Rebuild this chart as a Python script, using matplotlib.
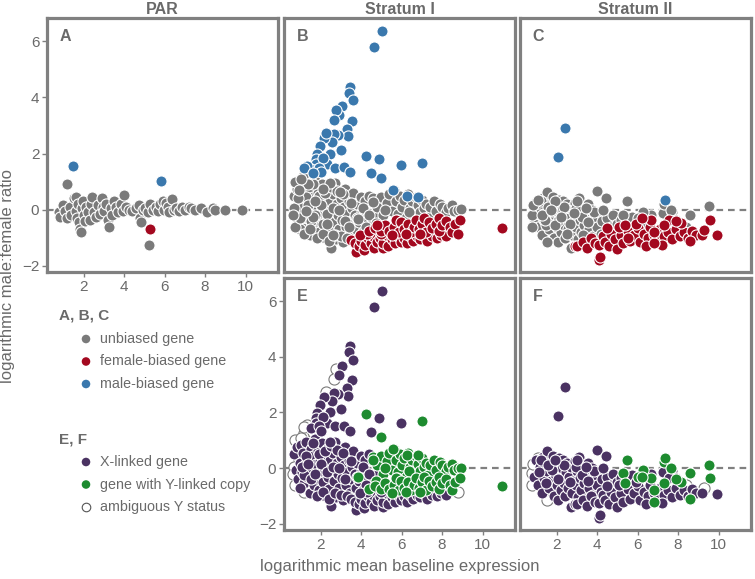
import matplotlib
matplotlib.use("Agg")
import matplotlib.pyplot as plt

plt.rcParams['font.family'] = ['Liberation Sans', 'DejaVu Sans']

# ---------------- data ----------------
# PAR (panel A): (log mean baseline expression, log male:female ratio)
par_unbiased = [(0.8,-0.1),(0.85,-0.25),(1.0,0.15),(1.1,-0.05),(1.19,0.93),(1.2,-0.3),(1.35,0.1),(1.4,-0.2),
    (1.5,0.4),(1.6,0.45),(1.6,-0.05),(1.65,-0.3),(1.7,0.2),(1.75,-0.45),(1.83,-0.7),(1.85,-0.78),(1.9,0.05),
    (1.95,0.3),(2.0,-0.2),(2.05,-0.4),(2.1,0.1),(2.2,-0.1),(2.3,-0.35),(2.35,0.2),(2.4,0.45),(2.5,-0.1),
    (2.6,-0.25),(2.7,0.15),(2.8,-0.15),(2.9,0.4),(2.95,0.1),(3.0,-0.05),(3.1,0.2),(3.2,-0.35),(3.27,-0.61),
    (3.35,0.05),(3.4,-0.2),(3.5,0.3),(3.6,0.1),(3.7,-0.1),(3.85,0.2),(3.98,0.54),(3.95,-0.05),(4.1,0.1),
    (4.25,0.0),(4.4,-0.05),(4.6,0.05),(4.75,0.15),(4.8,-0.3),(4.83,-0.45),(4.95,0.0),(5.05,0.05),(5.24,-1.26),
    (5.2,-0.1),(5.3,0.2),(5.45,0.0),(5.55,0.1),(5.65,-0.05),(5.75,0.2),(5.9,0.3),(5.95,0.0),(6.05,0.25),
    (6.15,0.1),(6.2,-0.1),(6.34,0.39),(6.45,0.0),(6.55,0.05),(6.7,-0.05),(6.85,0.1),(7.0,0.0),(7.2,0.1),
    (7.3,0.05),(7.5,0.0),(7.8,0.05),(8.1,-0.09),(8.4,0.05),(8.5,0.0),(8.97,0.0),(9.84,0.0)]
par_female = [(5.29,-0.70)]
par_male = [(1.48,1.57),(5.83,1.04)]

# Stratum I: groups by sex bias (unb / fem / mal) and Y status (X = X-linked, Y = Y-linked copy, A = ambiguous)
s1_unb_X = [(0.7,0.5),(0.8,-0.05),(0.85,0.75),(0.9,-0.4),(1.0,0.2),(1.05,0.85),(1.1,-0.15),(1.15,0.55),
    (1.2,-0.55),(1.25,0.1),(1.3,0.95),(1.35,-0.3),(1.4,0.35),(1.45,-0.9),(1.5,0.7),(1.55,-0.05),(1.6,0.45),
    (1.65,-0.6),(1.7,1.05),(1.75,0.15),(1.8,-0.35),(1.85,0.6),(1.9,-0.8),(1.95,0.25),(2.0,-0.1),(2.05,0.9),
    (2.1,-0.5),(2.15,0.4),(2.2,-1.0),(2.25,0.05),(2.3,0.7),(2.35,-0.3),(2.4,-0.75),(2.45,0.3),(2.5,-1.37),
    (2.55,-0.05),(2.6,0.55),(2.65,-0.45),(2.7,0.95),(2.75,-1.05),(2.8,0.2),(2.85,-0.2),(2.9,-0.7),(3.0,0.4),
    (3.05,-0.35),(3.1,-1.15),(3.15,0.1),(3.2,0.75),(3.25,-0.6),(3.3,-0.15),(3.4,0.3),(3.45,-0.9),(3.5,-0.4),
    (3.55,0.05),(3.6,0.6),(3.7,-0.2),(3.75,-0.7),(3.8,0.2),(3.9,-0.45),(4.0,0.45),(4.05,-0.1),(4.1,-0.8),
    (4.2,0.3),(4.3,-0.3),(4.4,0.5),(4.5,-0.55),(4.7,-0.25),(5.1,-0.5),(5.5,-0.6),(1.0,-0.7),(1.3,0.45),
    (1.6,0.9),(1.9,0.5),(2.2,0.6),(2.5,0.8),(2.8,0.65),(3.1,0.55),(1.2,-0.25),(1.5,-0.4),(1.8,-1.0),
    (2.1,-0.85),(2.4,-1.1),(2.7,-0.9),(3.0,-0.95),(3.3,-1.0),(1.1,0.05),(1.4,0.15),(1.7,-0.2),(2.0,0.15),
    (2.3,-0.15),(2.6,0.05),(2.9,0.0),(3.2,-0.4),(3.5,0.25),(3.8,-0.3),(4.1,0.05),(4.4,-0.2),(3.65,-1.1),
    (3.95,-0.95),(4.25,-0.6),(2.45,0.95)]
s1_unb_A = [(0.75,1.0),(1.2,1.27),(0.7,0.05),(0.75,-0.6),(1.2,-0.85),(1.6,-0.25),(2.95,0.64),(0.9,0.4),
    (1.0,-0.3),(1.4,0.9),(1.7,0.3),(2.1,0.75),(0.65,-0.2),(2.6,-0.9),(1.45,-0.7),(1.05,1.1),(0.95,0.7),
    (1.3,-0.05),(2.3,-0.5),(3.4,-0.6)]
s1_unb_Y = [(4.6,0.4),(4.8,0.1),(5.0,0.45),(5.1,-0.2),(5.3,0.25),(5.4,0.55),(5.5,-0.05),(5.6,0.7),(5.7,0.3),
    (5.8,-0.15),(5.9,0.5),(6.0,0.1),(6.1,0.35),(6.2,-0.3),(6.3,0.55),(6.4,0.05),(6.5,0.3),(6.6,-0.2),
    (6.7,0.45),(6.8,0.15),(6.9,-0.1),(7.0,0.35),(7.1,0.05),(7.2,0.2),(7.3,-0.25),(7.4,0.1),(7.6,0.3),
    (7.7,-0.05),(7.9,0.22),(8.0,0.1),(8.2,-0.1),(8.3,0.05),(8.5,0.15),(8.6,-0.05),(8.8,0.0),(8.95,0.01),
    (3.83,-0.33),(4.59,0.29),(4.73,-0.47),(5.2,0.0),(5.75,-0.35),(6.35,-0.1)]
s1_fem_X = [(3.5,-1.09),(3.74,-1.5),(3.7,-1.2),(3.9,-1.3),(4.13,-1.42),(4.0,-1.1),(4.2,-1.25),(4.35,-1.0),
    (4.5,-1.2),(4.65,-1.35),(4.6,-0.95),(4.8,-1.15),(4.95,-1.0),(5.07,-1.38),(5.1,-1.2),(5.25,-0.9),
    (5.35,-1.3),(5.5,-1.05),(5.65,-1.2),(5.8,-0.95),(5.95,-1.15),(6.1,-1.0),(6.25,-1.2),(6.4,-0.95),
    (6.55,-1.1),(6.75,-0.95),(6.9,-1.05),(7.05,-0.9),(7.25,-1.1),(7.5,-0.95),(7.75,-1.0),(7.95,-0.9),
    (8.2,-0.95),(4.3,-0.85),(5.0,-0.85),(3.95,-0.9)]
s1_fem_Y = [(4.4,-0.75),(4.7,-0.65),(5.0,-0.75),(5.2,-0.55),(5.4,-0.75),(5.6,-0.6),(5.72,-0.37),(5.85,-0.8),
    (5.95,-0.45),(6.1,-0.7),(6.3,-0.5),(6.45,-0.8),(6.6,-0.6),(6.7,-0.35),(6.85,-0.7),(7.0,-0.5),(7.1,-0.31),
    (7.2,-0.8),(7.35,-0.45),(7.5,-0.65),(7.7,-0.5),(7.85,-0.31),(7.85,-0.75),(8.0,-0.55),(8.2,-0.4),
    (8.4,-0.6),(8.5,-0.8),(8.65,-0.5),(8.87,-0.37),(10.95,-0.64),(5.5,-0.9),(6.2,-0.85),(6.9,-0.85)]
s1_fem_A = [(8.8,-0.85),(4.8,-0.55)]
s1_mal_X = [(5.04,6.36),(4.65,5.79),(3.45,4.37),(3.42,4.16),(3.58,3.9),(3.05,3.68),(3.53,3.16),(3.29,2.89),
    (3.37,2.61),(2.88,2.67),(2.65,2.7),(2.56,2.41),(2.16,2.55),(1.99,2.26),(3.0,2.12),(2.48,2.0),(1.84,1.97),
    (1.75,1.79),(2.32,1.64),(1.77,1.64),(2.72,1.5),(3.13,1.52),(3.45,1.34),(4.88,1.82),(5.98,1.61),
    (4.47,1.3),(2.1,1.85),(1.5,1.45),(1.9,1.5),(2.0,1.35),(2.93,3.36)]
s1_mal_A = [(2.78,3.55),(2.64,3.21),(2.24,2.74),(1.35,1.56),(1.2,1.48),(1.6,1.3)]
s1_mal_Y = [(4.26,1.93),(7.0,1.68),(5.0,1.13),(5.55,0.69),(6.28,0.48),(6.82,0.46)]

# Stratum II
s2_unb_X = [(0.9,-0.3),(1.0,0.28),(1.1,-0.6),(1.2,0.05),(1.3,-0.9),(1.35,0.4),(1.4,-0.35),(1.5,0.63),
    (1.5,-0.1),(1.6,-0.7),(1.65,0.2),(1.7,-0.45),(1.8,0.45),(1.85,-1.0),(1.9,-0.2),(1.95,0.1),(2.0,-0.6),
    (2.05,-1.15),(2.1,0.35),(2.15,-0.35),(2.2,-0.8),(2.25,0.0),(2.3,0.3),(2.35,-0.55),(2.4,-1.0),
    (2.45,-0.15),(2.5,0.2),(2.55,-0.7),(2.6,-0.3),(2.7,-1.38),(2.7,0.05),(2.75,-0.9),(2.8,-0.45),(2.9,0.25),
    (2.95,-0.6),(3.0,-0.1),(3.05,-1.05),(3.1,0.4),(3.15,-0.35),(3.2,-0.8),(3.3,0.1),(3.35,-0.55),(3.4,-1.1),
    (3.5,-0.2),(3.55,0.2),(3.6,-0.7),(3.7,-0.4),(3.75,0.0),(3.8,-0.95),(3.9,-0.25),(4.0,0.67),(4.0,-0.6),
    (4.1,-0.1),(4.2,-0.85),(4.25,-0.4),(4.44,0.43),(4.5,-0.3),(4.7,-0.6),(4.8,-0.2),(5.0,-0.5),(5.2,-0.37),
    (5.45,-0.7),(5.7,-0.26),(6.67,-0.2),(7.24,-0.13),(7.72,-0.1),(7.9,-0.35),(1.15,-0.15),(1.45,-0.55),
    (1.75,-0.05),(2.05,-0.4),(2.35,0.1),(2.65,-0.5),(2.95,0.05),(3.25,-0.25),(3.55,-0.45),(3.85,-0.1),
    (1.25,0.3),(1.55,0.1),(1.9,0.3),(3.0,0.3),(3.45,0.05),(4.3,0.0)]
s2_unb_A = [(0.77,-0.19),(0.77,-0.6),(1.41,-0.37),(1.5,-1.14),(1.9,-0.55),(2.87,-0.13),(4.49,-0.9),
    (0.85,0.15),(1.1,0.35),(1.3,-0.2),(2.2,-0.25),(2.5,-0.85),(3.3,-0.9),(1.7,0.0),(6.4,-0.45),(8.4,-0.6)]
s2_unb_Y = [(5.46,0.31),(6.27,-0.07),(7.3,0.22),(9.55,0.12),(8.58,-0.19),(7.64,-0.01),(5.3,-0.19),(6.0,-0.31)]
s2_fem_X = [(2.9,-1.3),(3.03,-1.3),(3.3,-1.15),(3.5,-1.35),(3.7,-1.0),(3.9,-1.2),(4.08,-1.26),(4.08,-1.8),
    (4.16,-1.68),(4.3,-0.95),(4.4,-1.15),(4.6,-1.3),(4.7,-0.85),(4.9,-1.05),(5.0,-1.4),(5.2,-0.9),(5.3,-1.2),
    (5.5,-0.75),(5.6,-1.1),(5.8,-0.9),(6.0,-0.65),(6.1,-1.15),(6.3,-0.85),(6.5,-1.0),(6.6,-0.6),(6.8,-0.9),
    (7.0,-1.1),(7.1,-0.7),(7.3,-0.95),(7.5,-0.8),(7.7,-1.05),(7.9,-0.7),(8.1,-0.95),(8.3,-0.8),(8.5,-1.0),
    (8.7,-0.75),(8.9,-0.9),(9.18,-0.9),(9.9,-0.91),(7.56,-0.35),(5.9,-0.5),(6.4,-1.3),(4.5,-0.65),
    (5.1,-0.6),(7.2,-1.25)]
s2_fem_Y = [(9.58,-0.35),(6.83,-1.2),(8.58,-1.11),(5.38,-0.55),(6.67,-0.37),(7.32,-0.55),(8.13,-0.49),
    (6.83,-0.78),(7.9,-0.4),(6.2,-0.3)]
s2_fem_A = [(5.54,-1.02),(9.26,-0.72)]
s2_mal_X = [(2.43,2.91),(2.08,1.87)]
s2_mal_Y = [(7.37,0.36)]

x_ticks = [2, 4, 6, 8, 10]
y_ticks = [-2, 0, 2, 4, 6]
col_titles = ["PAR", "Stratum I", "Stratum II"]

# ---------------- style ----------------
C_GRAY = '#7a7a7a'
C_RED = '#a3081f'
C_BLUE = '#3a78ad'
C_PURPLE = '#4a3262'
C_GREEN = '#1d8b2f'
FRAME = '#808080'
TXT = '#6a6a6a'
S = 64

W, H = 755, 579
fig = plt.figure(figsize=(W/100, H/100), dpi=100)
fig.patch.set_facecolor('white')

def ax_at(l, t, r, b):
    return fig.add_axes([l/W, 1-b/H, (r-l)/W, (b-t)/H])

axA = ax_at(47, 18, 278, 272)
axB = ax_at(284, 18, 515, 272)
axC = ax_at(520, 18, 751, 272)
axE = ax_at(284, 278, 515, 530)
axF = ax_at(520, 278, 751, 530)

def style(ax, xlab, ylab, letter):
    ax.set_xlim(0.19, 11.6)
    ax.set_ylim(-2.22, 6.83)
    for sp in ax.spines.values():
        sp.set_linewidth(2.3)
        sp.set_color(FRAME)
    ax.axhline(0, color=FRAME, lw=1.6, dashes=(3, 2.2), zorder=0)
    ax.set_xticks(x_ticks)
    ax.set_yticks(y_ticks)
    ax.set_yticklabels(['\u22122', '0', '2', '4', '6'])
    ax.tick_params(direction='out', length=3.5, width=1, color=FRAME, labelcolor=TXT,
                   labelsize=11, pad=2,
                   bottom=xlab, labelbottom=xlab, left=ylab, labelleft=ylab)
    ax.text(0.055, 0.955, letter, transform=ax.transAxes, ha='left', va='top',
            fontsize=11.5, fontweight='bold', color=TXT)

def xy(groups):
    pts = [p for g in groups for p in g]
    return [p[0] for p in pts], [p[1] for p in pts]

def dots(ax, groups, color, edge='white', z=2):
    x, y = xy(groups)
    ax.scatter(x, y, s=S, c=color, edgecolors=edge, linewidths=0.8, zorder=z)

# A
style(axA, True, True, 'A')
dots(axA, [par_unbiased], C_GRAY)
dots(axA, [par_female], C_RED, z=3)
dots(axA, [par_male], C_BLUE, z=4)

# B
style(axB, False, False, 'B')
dots(axB, [s1_unb_X, s1_unb_A, s1_unb_Y], C_GRAY)
dots(axB, [s1_fem_X, s1_fem_Y, s1_fem_A], C_RED, z=3)
dots(axB, [s1_mal_X, s1_mal_A, s1_mal_Y], C_BLUE, z=4)

# C
style(axC, False, False, 'C')
dots(axC, [s2_unb_X, s2_unb_A, s2_unb_Y], C_GRAY)
dots(axC, [s2_fem_X, s2_fem_Y, s2_fem_A], C_RED, z=3)
dots(axC, [s2_mal_X, s2_mal_Y], C_BLUE, z=4)

# E
style(axE, True, True, 'E')
dots(axE, [s1_unb_A, s1_fem_A, s1_mal_A], 'white', edge=C_GRAY)
dots(axE, [s1_unb_X, s1_fem_X, s1_mal_X], C_PURPLE, z=3)
dots(axE, [s1_unb_Y, s1_fem_Y, s1_mal_Y], C_GREEN, z=4)

# F
style(axF, True, False, 'F')
dots(axF, [s2_unb_A, s2_fem_A], 'white', edge=C_GRAY)
dots(axF, [s2_unb_X, s2_fem_X, s2_mal_X], C_PURPLE, z=3)
dots(axF, [s2_unb_Y, s2_fem_Y, s2_mal_Y], C_GREEN, z=4)

# column titles
for ax, t in zip([axA, axB, axC], col_titles):
    ax.set_title(t, fontsize=11.5, fontweight='bold', color=TXT, pad=3)

# axis labels
fig.text(8/W, 1-276/H, 'logarithmic male:female ratio', rotation=90, ha='center', va='center',
         fontsize=12, color=TXT)
fig.text(400/W, 1-567/H, 'logarithmic mean baseline expression', ha='center', va='center',
         fontsize=12, color=TXT)

# legend (drawn in pixel coordinates on an overlay)
lg = fig.add_axes([0, 0, 1, 1], zorder=-1)
lg.set_xlim(0, W)
lg.set_ylim(H, 0)
lg.axis('off')
legend_blocks = [
    ('A, B, C', 316, [('unbiased gene', C_GRAY, 'none'), ('female-biased gene', C_RED, 'none'),
                      ('male-biased gene', C_BLUE, 'none')]),
    ('E, F', 439, [('X-linked gene', C_PURPLE, 'none'), ('gene with Y-linked copy', C_GREEN, 'none'),
                   ('ambiguous Y status', 'white', '#555555')]),
]
for head, y0, items in legend_blocks:
    lg.text(59, y0, head, ha='left', va='center', fontsize=11, fontweight='bold', color=TXT)
    for i, (lab, fc, ec) in enumerate(items):
        yy = y0 + 23 + i * 22.5
        lg.scatter([86], [yy], s=38, c=fc, edgecolors=ec, linewidths=0.8)
        lg.text(100, yy, lab, ha='left', va='center', fontsize=10.3, color=TXT)

fig.savefig('out.png', dpi=100, facecolor='white')
